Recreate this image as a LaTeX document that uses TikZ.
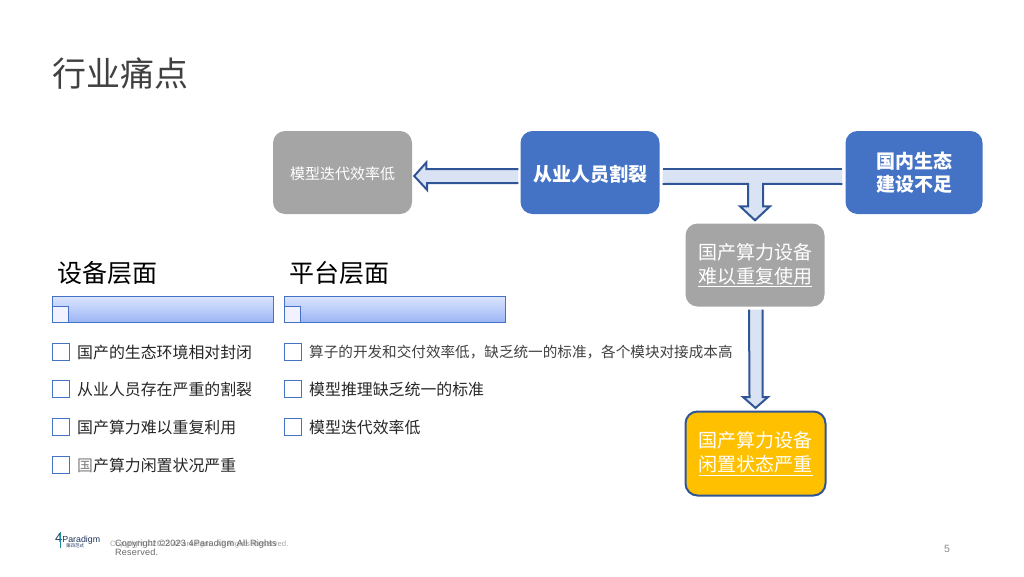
\documentclass[tikz,border=0pt]{standalone}
\usepackage{fontspec}
\setmainfont{Noto Sans CJK SC}
\newfontfamily\latinfont[LetterSpace=2]{Liberation Sans}
\newfontfamily\logofont{Liberation Sans}
\usetikzlibrary{positioning,calc}
\definecolor{boxblue}{HTML}{4472C4}
\definecolor{boxgray}{HTML}{A5A5A5}
\definecolor{boxgold}{HTML}{FFC000}
\definecolor{arrowline}{HTML}{2F5597}
\definecolor{arrowfill}{HTML}{DAE3F3}
\definecolor{bartop}{HTML}{DCE5FF}
\definecolor{barbottom}{HTML}{9CB6F5}
\definecolor{titlegray}{HTML}{404040}
\definecolor{logoteal}{HTML}{1E8CA0}

\begin{document}
\begin{tikzpicture}[x=1pt,y=-1pt,
  cause node/.style={rectangle,rounded corners=12pt,draw=none,text=white,align=center,minimum width=139pt,minimum height=83pt,font=\fontsize{19}{23.5}\selectfont,execute at begin node={\rule{0pt}{1.05em}}},
  low text/.style={font=\fontsize{19}{24}\selectfont,execute at begin node={\rule{0pt}{1.3em}}},
  head node/.style={font=\fontsize{25}{30}\selectfont,text=black,anchor=west,inner sep=0pt},
  item box/.style={draw=boxblue,fill=white,line width=0.9pt,minimum width=16.5pt,minimum height=16.5pt,inner sep=0pt,anchor=west},
  item text/.style={font=\fontsize{15.9}{18}\selectfont,text=black!85,anchor=west,inner sep=0pt},
  grad bar/.style={draw=boxblue,line width=0.8pt,top color=bartop,bottom color=barbottom,minimum height=26pt,minimum width=220.5pt,inner sep=0pt,anchor=west},
  bar mark/.style={item box,minimum width=16pt,minimum height=16pt,fill=white!95!blue,anchor=south west},
  arrow line/.style={draw=arrowline,line width=2pt,line join=miter},
  arrow body/.style={arrow line,fill=arrowfill}]
   \useasboundingbox (0,0) rectangle (1024,576);
   \node[anchor=west,inner sep=0pt,font=\fontsize{34}{40}\selectfont,text=titlegray] (title) at (52,74) {行业痛点};

   % top row
   \node[cause node,fill=boxgray,font=\fontsize{15}{18}\selectfont] (model) at (342.5,172.5) {模型迭代效率低};
   \node[cause node,fill=boxblue,font=\fontsize{19}{23.5}\selectfont\bfseries] (staff) at (590,172.5) {从业人员割裂};
   \node[cause node,fill=boxblue,minimum width=137pt,font=\fontsize{19}{23.5}\selectfont\bfseries] (eco) at (914,172.5) {国内生态\\建设不足};
   % right column
   \node[cause node,low text,fill=boxgray] (reuse) at (755,265) {国产算力设备\\\underline{难以重复使用}};
   \node[cause node,low text,fill=boxgold,draw=arrowline,line width=2pt,minimum width=140pt,minimum height=84pt] (idle) at (755.5,453.5) {国产算力设备\\\underline{闲置状态严重}};

   % block arrows
   \draw[arrow body] ($(staff.west)+(-2,-3.5)$) -- ++(-92,0) -- ++(0,-6.5) -- ($(model.east)+(2,3.5)$) -- ++(13,14) -- ++(0,-7) -- ($(staff.west)+(-2,10.5)$);
   \coordinate (t tip) at ($(reuse.north)+(0,-3)$);
   \path[fill=arrowfill] ($(staff.east)+(3,-3.5)$) -- ($(eco.west)+(-3,-3.5)$) -- ($(eco.west)+(-3,11.5)$) -- ($(t tip)+(8,-36.5)$) -- ($(t tip)+(8,-14)$) -- ($(t tip)+(15,-14)$) -- (t tip) -- ($(t tip)+(-15,-14)$) -- ($(t tip)+(-7,-14)$) -- ($(t tip)+(-7,-36.5)$) -- ($(staff.east)+(3,11.5)$) -- cycle;
   \draw[arrow line] ($(staff.east)+(3,-3.5)$) -- ($(eco.west)+(-3,-3.5)$);
   \draw[arrow line] ($(staff.east)+(3,11.5)$) -- ($(t tip)+(-7,-36.5)$) -- ($(t tip)+(-7,-14)$) -- ($(t tip)+(-15,-14)$) -- (t tip) -- ($(t tip)+(15,-14)$) -- ($(t tip)+(8,-14)$) -- ($(t tip)+(8,-36.5)$) -- ($(eco.west)+(-3,11.5)$);
   \coordinate (i tip) at ($(idle.north)+(0,-2.5)$);
   \draw[arrow body] ($(reuse.south)+(-6,3)$) -- ($(i tip)+(-6,-11)$) -- ($(i tip)+(-12.5,-11)$) -- (i tip) -- ($(i tip)+(12.5,-11)$) -- ($(i tip)+(7,-11)$) -- ($(reuse.south)+(7.5,3)$);

   % left lists
   \node[head node] (dev head) at (57,273) {设备层面};
   \node[head node] (plat head) at (289,273) {平台层面};
   \node[grad bar] (dev bar) at (52,309) {};
   \node[grad bar] (plat bar) at (284,309) {};
   \node[bar mark] (dev mark) at (dev bar.south west) {};
   \node[bar mark] (plat mark) at (plat bar.south west) {};

   \foreach \y/\txt [count=\i] in {352/国产的生态环境相对封闭,389/从业人员存在严重的割裂,427/国产算力难以重复利用,465/{\textcolor{black!50}{国}产算力闲置状况严重}}{
     \node[item box] (dev box \i) at (52,\y) {};
     \node[item text] (dev item \i) at (77,\y) {\txt};
   }
   \foreach \y/\txt [count=\i] in {352/{\fontsize{14.6}{18}\selectfont\color{titlegray}算子的开发和交付效率低，缺乏统一的标准，各个模块对接成本高},389/模型推理缺乏统一的标准,427/模型迭代效率低}{
     \node[item box] (plat box \i) at (284,\y) {};
     \node[item text] (plat item \i) at (309,\y) {\txt};
   }

   % footer
   \node[anchor=west,inner sep=0pt,font=\logofont\fontsize{8.8}{10}\selectfont,text=arrowline!60!black] (logo) at (55,539) {{\fontsize{13}{13}\selectfont 4}Paradigm};
   \node[anchor=west,inner sep=0pt,font=\fontsize{4.5}{5}\selectfont,text=arrowline!60!black] (logo sub) at (66,546) {第四范式};
   \draw[logoteal,line width=0.8pt] (60.5,532) -- (60.5,548);
   \node[anchor=west,inner sep=0pt,font=\latinfont\fontsize{7.7}{8}\selectfont,text=black!35] (copy back) at (110,544) {Copyright ©2023 4Paradigm. All Rights Reserved.};
   \node[anchor=north west,inner sep=0pt,align=left,font=\latinfont\fontsize{9.1}{9.6}\selectfont,text=black!60] (copy front) at (115,539.5) {Copyright ©2023 4Paradigm All Rights\\Reserved.};
   \node[inner sep=0pt,font=\latinfont\fontsize{10.5}{12}\selectfont,text=black!45] (page) at (947,549) {5};
\end{tikzpicture}
\end{document}
